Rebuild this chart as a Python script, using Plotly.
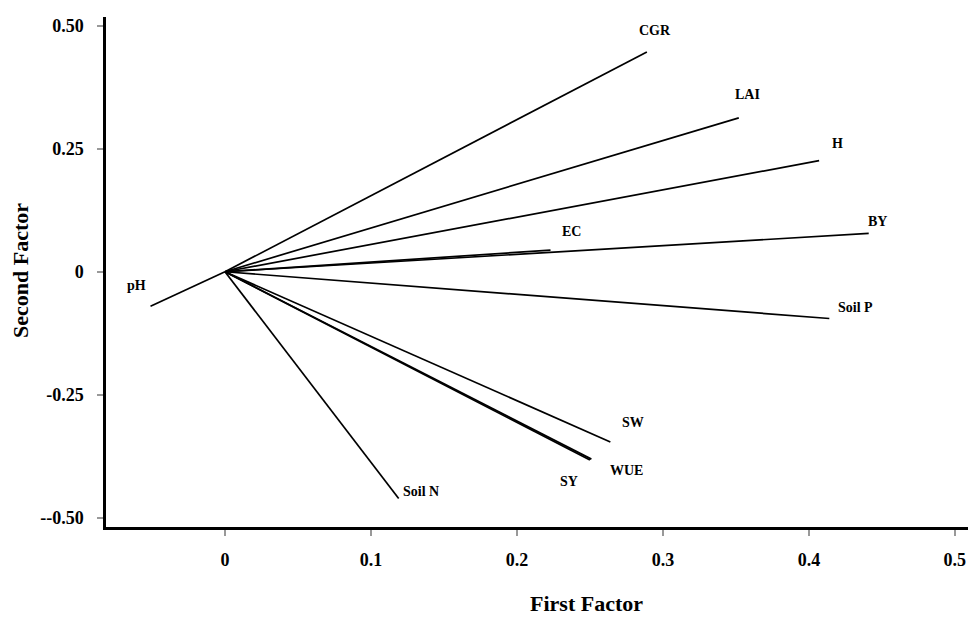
import plotly.graph_objects as go

# ---- data ----
variables = ["CGR", "LAI", "H", "BY", "EC", "Soil P", "SW", "WUE", "SY", "Soil N", "pH"]
first_factor = [0.289, 0.352, 0.407, 0.441, 0.223, 0.414, 0.264, 0.251, 0.250, 0.119, -0.051]
second_factor = [0.447, 0.313, 0.226, 0.078, 0.044, -0.095, -0.346, -0.381, -0.383, -0.461, -0.070]

x_ticks = [0, 0.1, 0.2, 0.3, 0.4, 0.5]
x_tick_labels = ["0", "0.1", "0.2", "0.3", "0.4", "0.5"]
y_ticks = [-0.5, -0.25, 0, 0.25, 0.5]
y_tick_labels = ["--0.50", "-0.25", "0", "0.25", "0.50"]

# ---- styling: label offsets in pixels from each vector tip ----
label_shift = {
    "CGR": (8, 21), "LAI": (9, 23), "H": (18, 17), "BY": (9, 12),
    "EC": (21, 19), "Soil P": (26, 11), "SW": (23, 19), "WUE": (35, -11),
    "SY": (-21, -21), "Soil N": (22, 7), "pH": (-14, 21),
}

FONT = "Liberation Serif, Times New Roman, serif"

fig = go.Figure()
for name, fx, fy in zip(variables, first_factor, second_factor):
    fig.add_trace(go.Scatter(
        x=[0, fx], y=[0, fy], mode="lines",
        line=dict(color="black", width=1.7),
        showlegend=False, hoverinfo="skip",
    ))
    dx, dy = label_shift[name]
    fig.add_annotation(
        x=fx, y=fy, xref="x", yref="y", text=name, showarrow=False,
        xshift=dx, yshift=dy, xanchor="center", yanchor="middle",
        font=dict(family=FONT, size=14, color="black", weight="bold"),
    )

fig.add_annotation(
    x=0.557, y=0, xref="paper", yref="paper", yshift=-76,
    text="First Factor", showarrow=False, xanchor="center", yanchor="middle",
    font=dict(family=FONT, size=22, color="black", weight="bold"),
)
fig.add_annotation(
    x=0, y=0.502, xref="paper", yref="paper", xshift=-85,
    text="Second Factor", showarrow=False, textangle=-90,
    xanchor="center", yanchor="middle",
    font=dict(family=FONT, size=22, color="black", weight="bold"),
)

fig.update_layout(
    width=968, height=617,
    margin=dict(l=106, r=0, t=17, b=90, pad=0),
    paper_bgcolor="white", plot_bgcolor="white",
    xaxis=dict(
        range=[-0.0815, 0.509], tickvals=x_ticks, ticktext=x_tick_labels,
        showgrid=False, zeroline=False,
        showline=True, linecolor="black", linewidth=2.5,
        ticks="outside", ticklen=6, tickwidth=2, tickcolor="#999999",
        ticklabelstandoff=9,
        tickfont=dict(family=FONT, size=18, color="black", weight="bold"),
    ),
    yaxis=dict(
        range=[-0.519, 0.518], tickvals=y_ticks, ticktext=y_tick_labels,
        showgrid=False, zeroline=False,
        showline=True, linecolor="black", linewidth=2.5,
        ticks="outside", ticklen=6, tickwidth=2, tickcolor="#999999",
        ticklabelstandoff=10,
        tickfont=dict(family=FONT, size=18, color="black", weight="bold"),
    ),
)

fig.write_html(
    "out.html",
    config={"displayModeBar": False},
    post_script="document.body.style.margin='0';document.body.style.overflow='hidden';",
)
